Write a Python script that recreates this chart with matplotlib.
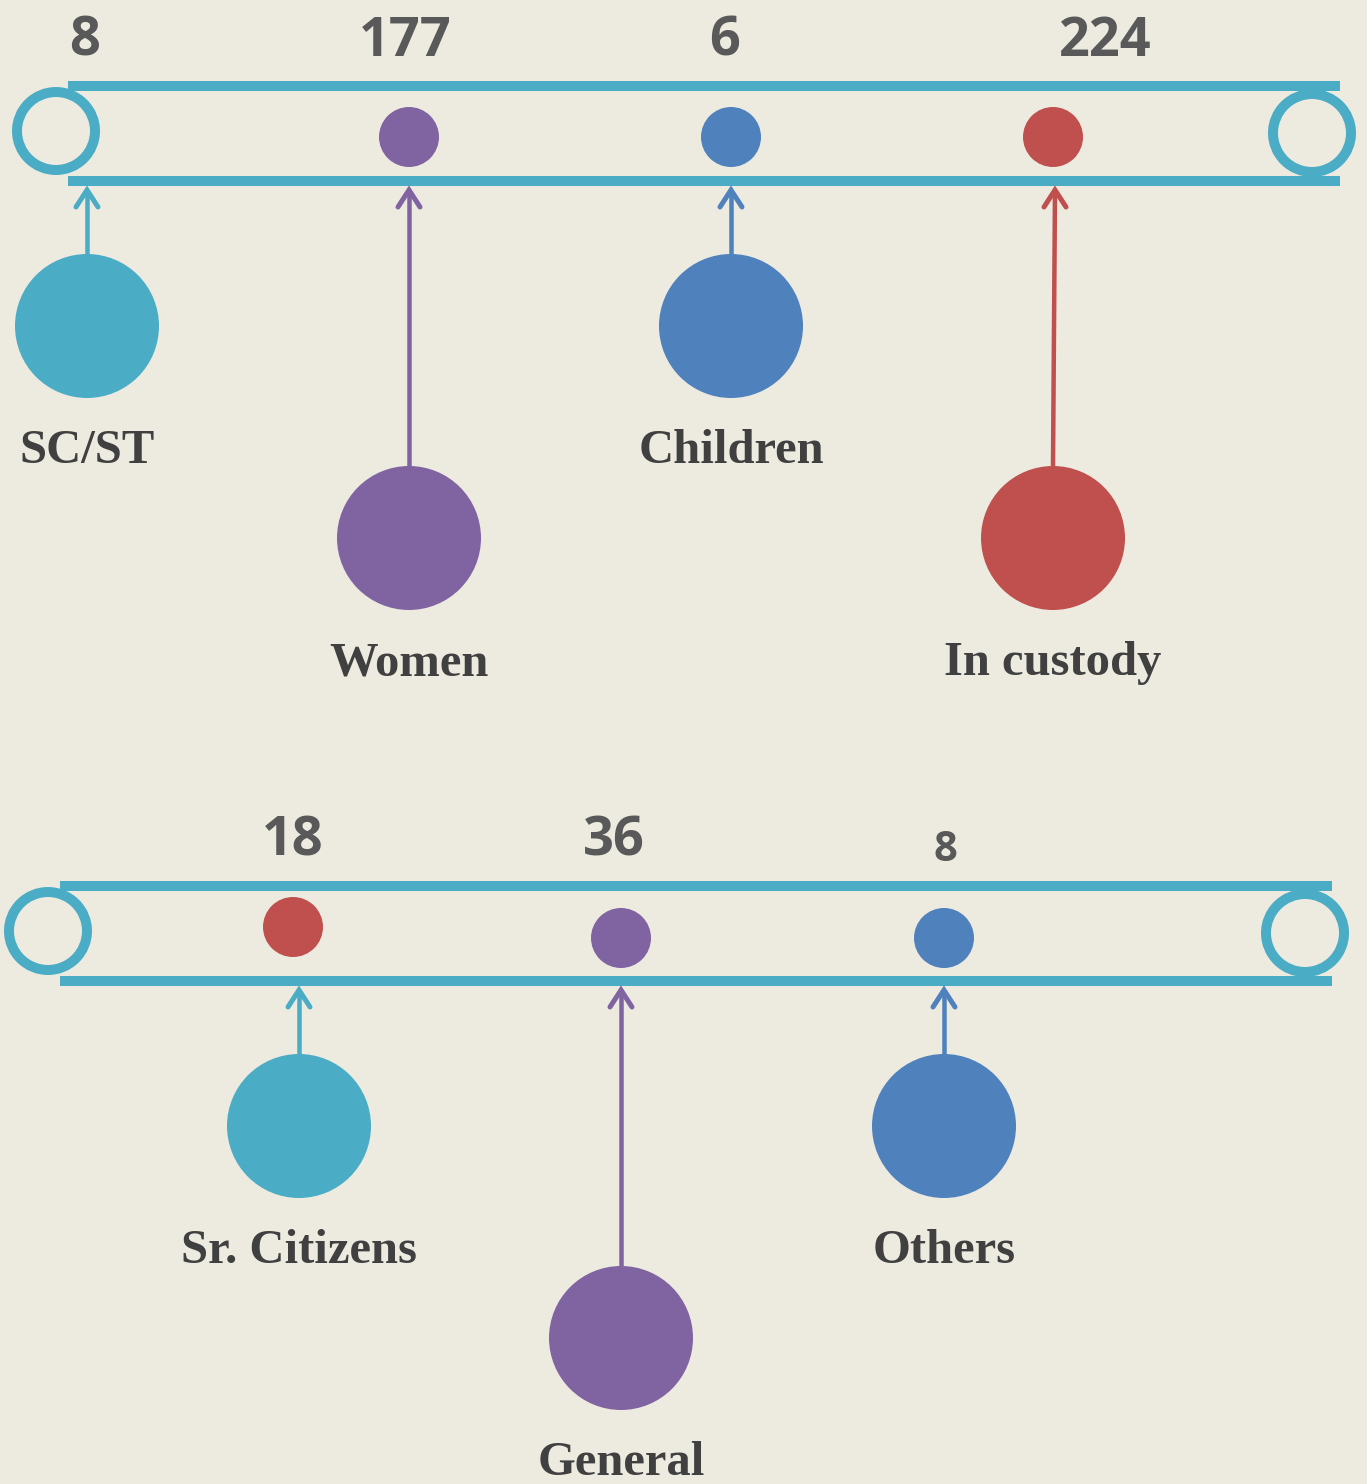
import matplotlib
matplotlib.use("Agg")
import matplotlib.pyplot as plt
from matplotlib.patches import Circle

# data
top_labels = ["SC/ST", "Women", "Children", "In custody"]
top_values = [8, 177, 6, 224]
bottom_labels = ["Sr. Citizens", "General", "Others"]
bottom_values = [18, 36, 8]

CYAN = "#4BACC6"
PURPLE = "#8064A2"
BLUE = "#4F81BD"
RED = "#C0504D"
BG = "#EDEBE0"

top_colors = [CYAN, PURPLE, BLUE, RED]
top_dot_colors = [None, PURPLE, BLUE, RED]
bottom_colors = [CYAN, PURPLE, BLUE]
bottom_dot_colors = [RED, PURPLE, BLUE]

# layout (pixels)
W, H = 1367, 1484
PX = 72 / 100  # points per pixel

fig = plt.figure(figsize=(W / 100, H / 100), dpi=100, facecolor=BG)
ax = fig.add_axes([0, 0, 1, 1])
ax.set_xlim(0, W)
ax.set_ylim(H, 0)
ax.set_facecolor(BG)
ax.axis("off")

num_font = "Open Sans"
lab_font = "Liberation Serif"


def arrow(x0, y0, x1, y1, color):
    ax.plot([x0, x1], [y0, y1], color=color, lw=4.5 * PX, solid_capstyle="butt")
    ax.plot([x1 - 11, x1, x1 + 11], [y1 + 17, y1, y1 + 17], color=color,
            lw=5 * PX, solid_capstyle="round", solid_joinstyle="miter")


def draw_row(y0, xs, labels, values, colors, dot_colors, num_xs, num_dy, num_sizes,
             dot_off, band_x, rings):
    # band
    for yy in (86, 181):
        ax.plot(band_x, [y0 + yy, y0 + yy], color=CYAN, lw=10 * PX, solid_capstyle="butt")
    for (cx, cy) in rings:
        ax.add_patch(Circle((cx, y0 + cy), 39, fill=False, ec=CYAN, lw=10 * PX))
    for i, x in enumerate(xs):
        far = i % 2 == 1
        cy = y0 + (538 if far else 326)
        ax.add_patch(Circle((x, cy), 72, color=colors[i], lw=0))
        x_tip = x + (2 if (far and i == 3 and y0 == 0) else 0)
        arrow(x, cy - 72, x_tip, y0 + 190, colors[i])
        if dot_colors[i] is not None:
            ax.add_patch(Circle((x + dot_off[i][0], y0 + 137 + dot_off[i][1]), 30,
                                color=dot_colors[i], lw=0))
        ax.text(x, cy + 72 + 65, labels[i], ha="center", va="baseline",
                fontsize=35, fontweight="bold", family=lab_font, color="#404040")
        ax.text(num_xs[i], y0 + 56 + num_dy[i], str(values[i]), ha="center",
                va="baseline", fontsize=num_sizes[i], fontweight="bold",
                family=num_font, color="#595959")


draw_row(0, [87, 409, 731, 1053], top_labels, top_values, top_colors, top_dot_colors,
         [85, 405, 725, 1105], [0, 0, 0, 0], [39, 39, 39, 39],
         [(0, 0), (0, 0), (0, 0), (0, 0)],
         [68, 1340], [(56, 131), (1312, 133)])
draw_row(800, [299, 621, 944], bottom_labels, bottom_values, bottom_colors,
         bottom_dot_colors, [293, 614, 945], [0, 0, 5], [39, 39, 30],
         [(-6, -10), (0, 1), (0, 1)],
         [60, 1332], [(48, 131), (1305, 133)])

fig.savefig("out.png", dpi=100, facecolor=BG)
